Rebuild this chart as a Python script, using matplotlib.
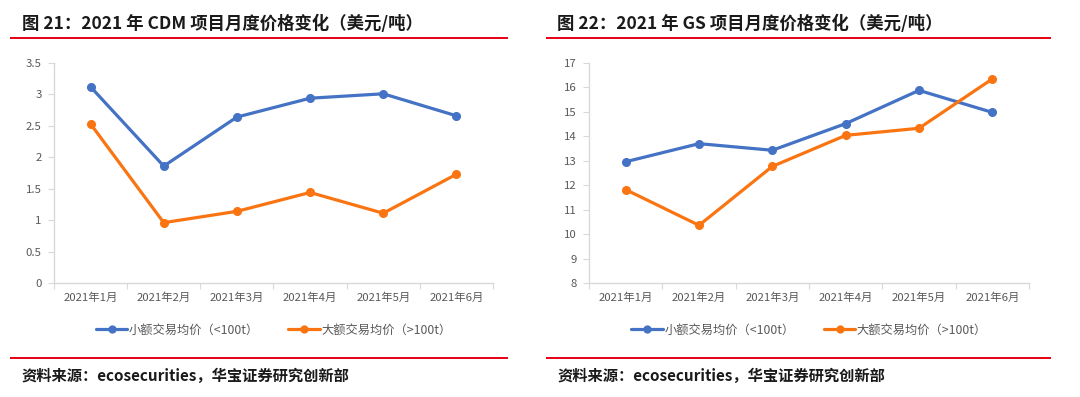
import matplotlib
matplotlib.use("Agg")
import matplotlib.pyplot as plt
from matplotlib.lines import Line2D
import numpy as np

plt.rcParams['font.family'] = ['Noto Sans CJK SC', 'DejaVu Sans']

months = ["2021年1月", "2021年2月", "2021年3月", "2021年4月", "2021年5月", "2021年6月"]
series_names = ["小额交易均价（<100t）", "大额交易均价（>100t）"]

cdm_small = [3.12, 1.86, 2.64, 2.94, 3.01, 2.66]
cdm_large = [2.53, 0.96, 1.14, 1.44, 1.11, 1.73]

gs_small = [12.96, 13.70, 13.43, 14.52, 15.88, 14.98]
gs_large = [11.82, 10.36, 12.77, 14.04, 14.33, 16.35]

cdm_yticks = [0, 0.5, 1, 1.5, 2, 2.5, 3, 3.5]
cdm_yticklabels = ["0", "0.5", "1", "1.5", "2", "2.5", "3", "3.5"]
gs_yticks = list(range(8, 18))
gs_yticklabels = [str(v) for v in gs_yticks]

titles = ["图 21：2021 年 CDM 项目月度价格变化（美元/吨）",
          "图 22：2021 年 GS 项目月度价格变化（美元/吨）"]
source = "资料来源：ecosecurities，华宝证券研究创新部"

BLUE = "#4472C4"
ORANGE = "#FA7512"
GRID = "#D9D9D9"
TXT = "#595959"

W, H = 1080, 397
fig = plt.figure(figsize=(W / 100, H / 100), dpi=100)


def px_axes(left, top, right, bottom):
    return fig.add_axes([left / W, 1 - bottom / H, (right - left) / W, (bottom - top) / H])


def draw_panel(ax, small, large, yticks, yticklabels):
    x = np.arange(len(months))
    ax.plot(x, small, color=BLUE, lw=2.3, marker='o', ms=5.5, label=series_names[0],
            solid_capstyle='round')
    ax.plot(x, large, color=ORANGE, lw=2.3, marker='o', ms=5.5, label=series_names[1],
            solid_capstyle='round')
    ax.set_xlim(-0.5, len(months) - 0.5)
    ax.set_ylim(yticks[0], yticks[-1])
    ax.set_yticks(yticks)
    ax.set_yticklabels(yticklabels, fontsize=8.2, color=TXT)
    ax.set_xticks(np.arange(-0.5, len(months), 1.0))
    ax.set_xticklabels([])
    ax.set_xticks(x, minor=True)
    ax.set_xticklabels(months, minor=True, fontsize=8.2, color=TXT)
    ax.tick_params(axis='x', which='major', length=4, color=GRID, direction='out')
    ax.tick_params(axis='x', which='minor', length=0, pad=7)
    ax.tick_params(axis='y', length=4, color=GRID, pad=5)
    for s in ['top', 'right']:
        ax.spines[s].set_visible(False)
    for s in ['left', 'bottom']:
        ax.spines[s].set_color(GRID)
        ax.spines[s].set_linewidth(1.0)
    ax.set_facecolor('white')
    leg = ax.legend(loc='center', bbox_to_anchor=(0.5, -0.214), ncol=2, frameon=False,
                    fontsize=8.8, handlelength=2.6, columnspacing=2.4, handletextpad=0.1,
                    markerscale=0.9)
    for t in leg.get_texts():
        t.set_color(TXT)


ax1 = px_axes(54, 63, 493, 283)
draw_panel(ax1, cdm_small, cdm_large, cdm_yticks, cdm_yticklabels)
ax2 = px_axes(589, 63, 1029, 283)
draw_panel(ax2, gs_small, gs_large, gs_yticks, gs_yticklabels)

# titles, rules and source notes
for (x0, x1, tx), title in zip([(11, 507, 22), (547, 1050, 557)], titles):
    fig.text(tx / W, 1 - 24 / H, title, fontsize=12.5, fontweight='bold', color='#1a1a1a',
             va='center', ha='left')
    fig.add_artist(Line2D([x0 / W, x1 / W], [1 - 38 / H, 1 - 38 / H], color='#E60012', lw=1.4))
    fig.add_artist(Line2D([x0 / W, x1 / W], [1 - 358 / H, 1 - 358 / H], color='#E60012', lw=1.4))
    fig.text(tx / W, 1 - 376 / H, source, fontsize=11, fontweight='bold', color='#1a1a1a',
             va='center', ha='left')

fig.savefig("out.png", dpi=100, facecolor='white')
